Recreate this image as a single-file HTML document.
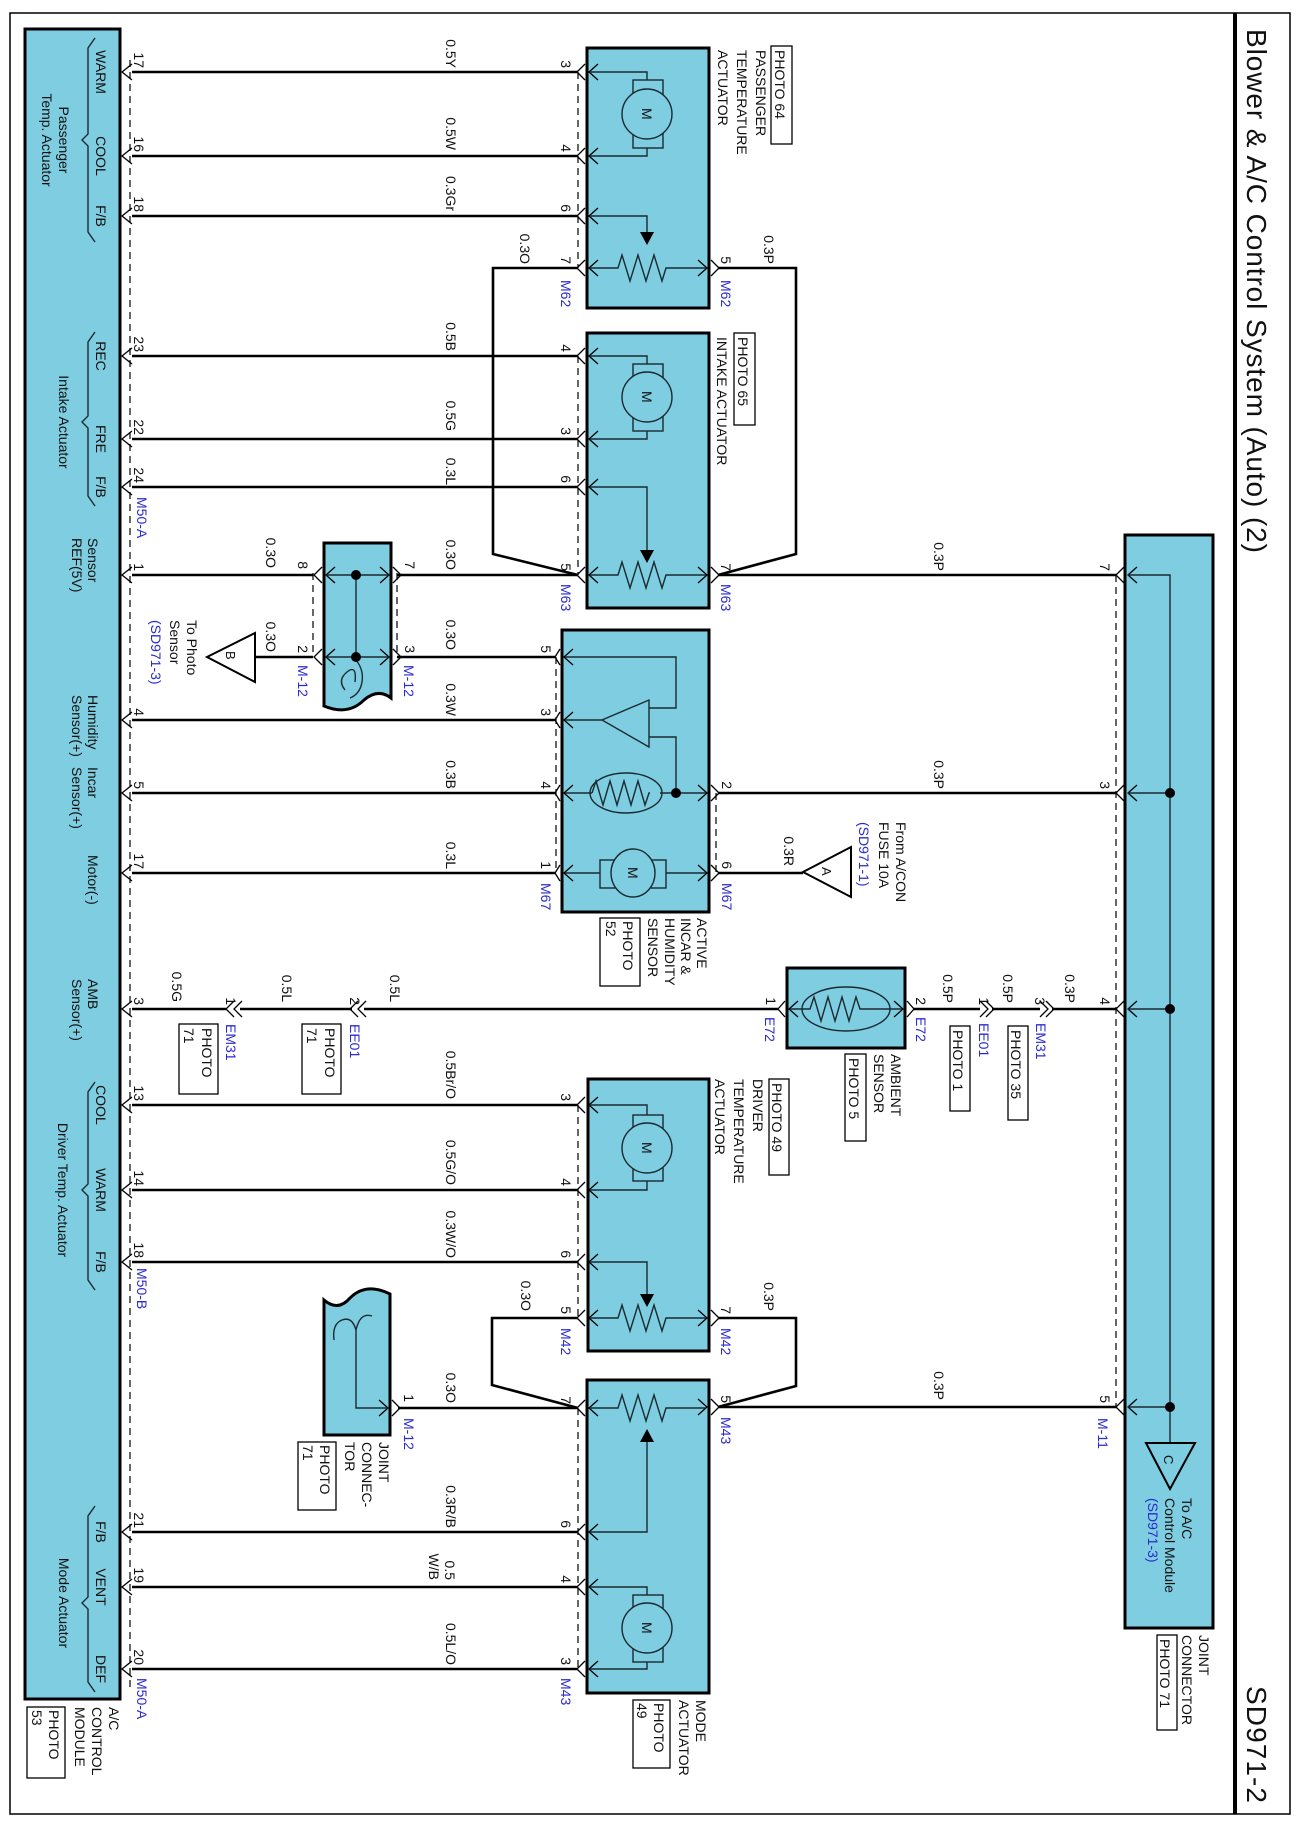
<!DOCTYPE html>
<html><head><meta charset="utf-8"><style>
html,body{margin:0;padding:0;background:#fff;}
svg{display:block;}
text{font-family:"Liberation Sans",Arial,sans-serif;font-size:14px;fill:#111;}
.b{fill:#2a2ad0;}
.w{stroke:#000;stroke-width:2.6;fill:none;}
.t{stroke:#1a2a30;stroke-width:1.4;fill:none;}
.box{fill:#7ecde0;stroke:#000;stroke-width:3;}
.d{stroke:#000;stroke-width:1.2;stroke-dasharray:7,5;fill:none;}
.ch{stroke:#000;stroke-width:1.3;fill:none;}
</style></head><body>
<svg width="1300" height="1828" viewBox="0 0 1300 1828" xmlns="http://www.w3.org/2000/svg">
<!-- frame -->
<rect x="10" y="13" width="1280" height="1801" fill="none" stroke="#000" stroke-width="1.5"/>
<line x1="1235" y1="13" x2="1235" y2="1814" stroke="#000" stroke-width="4"/>
<text transform="translate(1247 29) rotate(90)" style="font-size:28px" textLength="524">Blower &amp; A/C Control System (Auto) (2)</text>
<text transform="translate(1247 1686) rotate(90)" style="font-size:28px" textLength="117">SD971-2</text>

<!-- boxes -->
<rect class="box" x="25" y="29" width="95" height="1670"/>
<rect class="box" x="1125" y="535" width="88" height="1093"/>
<rect class="box" x="587" y="48" width="122" height="260"/>
<rect class="box" x="587" y="333" width="122" height="275"/>
<rect class="box" x="562" y="630" width="147" height="282"/>
<rect class="box" x="787" y="968" width="118" height="80"/>
<rect class="box" x="588" y="1079" width="121" height="272"/>
<rect class="box" x="587" y="1380" width="122" height="313"/>
<path class="box" d="M324 543 L391 543 L391 698 Q378 688 364 700 Q348 716 324 706 Z"/>
<path class="box" d="M324 1300 Q338 1312 350 1298 Q366 1282 390 1294 L390 1435 L324 1435 Z"/>

<!-- dashed lines -->
<line class="d" x1="130" y1="60" x2="130" y2="1690"/>
<line class="d" x1="578" y1="72" x2="578" y2="268"/>
<line class="d" x1="578" y1="356" x2="578" y2="575"/>
<line class="d" x1="556" y1="657" x2="556" y2="873"/>
<line class="d" x1="716" y1="793" x2="716" y2="873"/>
<line class="d" x1="578" y1="1105" x2="578" y2="1318"/>
<line class="d" x1="578" y1="1408" x2="578" y2="1669"/>
<line class="d" x1="1116" y1="575" x2="1116" y2="1407"/>
<line class="d" x1="313" y1="573" x2="313" y2="657"/>
<line class="d" x1="397" y1="573" x2="397" y2="657"/>

<!-- wires -->
<g class="w">
<path d="M132 72H578M132 156H578M132 216H578"/>
<path d="M132 356H578M132 439H578M132 487H578"/>
<path d="M132 575H313M397 575H578"/>
<path d="M255 657H313M397 657H556"/>
<path d="M132 720H556M132 793H556M132 873H556"/>
<path d="M132 1009H226M240 1009H352M364 1009H779"/>
<path d="M913 1009H980M992 1009H1040M1052 1009H1117"/>
<path d="M132 1105H578M132 1190H578M132 1262H578"/>
<path d="M132 1532H578M132 1587H578M132 1669H578"/>
<path d="M398 1408H578"/>
<path d="M578 268H493V554L578 575"/>
<path d="M718 268H796V554L718 575"/>
<path d="M578 1318H492V1385L578 1408"/>
<path d="M718 1318H796V1386L718 1407"/>
<path d="M718 575H1117M718 793H1117M718 1407H1117"/>
<path d="M718 873H803"/>
</g>

<!-- module chevrons -->
<g class="ch">
<path d="M132 64L122 72L132 80M132 148L122 156L132 164M132 208L122 216L132 224M132 348L122 356L132 364M132 431L122 439L132 447M132 479L122 487L132 495M132 567L122 575L132 583M132 712L122 720L132 728M132 785L122 793L132 801M132 865L122 873L132 881M132 1001L122 1009L132 1017M132 1097L122 1105L132 1113M132 1182L122 1190L132 1198M132 1254L122 1262L132 1270M132 1524L122 1532L132 1540M132 1579L122 1587L132 1595M132 1661L122 1669L132 1677"/>
</g>
<!-- component left chevrons (edge 587) -->
<g class="ch">
<path d="M585 64L577 72L585 80M598 64L589 72L598 80"/>
<path d="M585 148L577 156L585 164M598 148L589 156L598 164"/>
<path d="M585 208L577 216L585 224M598 208L589 216L598 224"/>
<path d="M585 260L577 268L585 276M598 260L589 268L598 276"/>
<path d="M585 348L577 356L585 364M598 348L589 356L598 364"/>
<path d="M585 431L577 439L585 447M598 431L589 439L598 447"/>
<path d="M585 479L577 487L585 495M598 479L589 487L598 495"/>
<path d="M585 567L577 575L585 583M598 567L589 575L598 583"/>
<path d="M585 1097L577 1105L585 1113M598 1097L589 1105L598 1113"/>
<path d="M585 1182L577 1190L585 1198M598 1182L589 1190L598 1198"/>
<path d="M585 1254L577 1262L585 1270M598 1254L589 1262L598 1270"/>
<path d="M585 1310L577 1318L585 1326M598 1310L589 1318L598 1326"/>
<path d="M585 1400L577 1408L585 1416M598 1400L589 1408L598 1416"/>
<path d="M585 1524L577 1532L585 1540M598 1524L589 1532L598 1540"/>
<path d="M585 1579L577 1587L585 1595M598 1579L589 1587L598 1595"/>
<path d="M585 1661L577 1669L585 1677M598 1661L589 1669L598 1677"/>
<path d="M560 649L555 657L560 665M573 649L564 657L573 665"/>
<path d="M560 712L555 720L560 728M573 712L564 720L573 728"/>
<path d="M560 785L555 793L560 801M573 785L564 793L573 801"/>
<path d="M560 865L555 873L560 881M573 865L564 873L573 881"/>
<!-- right side -->
<path d="M711 260L719 268L711 276M698 260L707 268L698 276"/>
<path d="M711 567L719 575L711 583M698 567L707 575L698 583"/>
<path d="M711 785L719 793L711 801M698 785L707 793L698 801"/>
<path d="M711 865L719 873L711 881M698 865L707 873L698 881"/>
<path d="M711 1310L719 1318L711 1326M698 1310L707 1318L698 1326"/>
<path d="M711 1399L719 1407L711 1415M698 1399L707 1407L698 1415"/>
<!-- joint -->
<path d="M1124 567L1116 575L1124 583M1137 567L1128 575L1137 583"/>
<path d="M1124 785L1116 793L1124 801M1137 785L1128 793L1137 801"/>
<path d="M1124 1001L1116 1009L1124 1017M1137 1001L1128 1009L1137 1017"/>
<path d="M1124 1399L1116 1407L1124 1415M1137 1399L1128 1407L1137 1415"/>
<!-- M-12 joint upper -->
<path d="M322 567L314 575L322 583M335 567L326 575L335 583M322 649L314 657L322 665M335 649L326 657L335 665"/>
<path d="M393 567L401 575L393 583M380 567L389 575L380 583M393 649L401 657L393 665M380 649L389 657L380 665"/>
<path d="M392 1400L400 1408L392 1416M379 1400L388 1408L379 1416"/>
<!-- ambient -->
<path d="M785 1001L778 1009L785 1017M798 1001L789 1009L798 1017"/>
<path d="M907 1001L914 1009L907 1017M894 1001L903 1009L894 1017"/>
<!-- inline connectors -->
<path d="M234 1001L226 1009L234 1017M242 1001L234 1009L242 1017"/>
<path d="M358 1001L350 1009L358 1017M366 1001L358 1009L366 1017"/>
<path d="M980 1001L988 1009L980 1017M986 1001L994 1009L986 1017"/>
<path d="M1040 1001L1048 1009L1040 1017M1046 1001L1054 1009L1046 1017"/>
</g>

<!-- internals -->
<g class="t">
<!-- pass temp -->
<path d="M590 72H647V80M647 148V156H590"/>
<path d="M590 216H647V232"/>
<path d="M590 268H618l4 -13l8 26l8 -26l8 26l8 -26l8 26l4 -13H706"/>
<!-- intake -->
<path d="M590 356H647V364M647 431V439H590"/>
<path d="M590 487H647V550"/>
<path d="M590 575H618l4 -13l8 26l8 -26l8 26l8 -26l8 26l4 -13H706"/>
<!-- driver -->
<path d="M590 1105H647V1115M647 1181V1190H590"/>
<path d="M590 1262H647V1294"/>
<path d="M590 1318H618l4 -13l8 26l8 -26l8 26l8 -26l8 26l4 -13H706"/>
<!-- mode -->
<path d="M590 1408H618l4 -13l8 26l8 -26l8 26l8 -26l8 26l4 -13H706"/>
<path d="M590 1532H647V1442"/>
<path d="M590 1587H647V1595M647 1662V1669H590"/>
<!-- humidity -->
<path d="M565 657H676V708H649"/>
<path d="M649 737H676V793"/>
<path d="M602 720H565"/>
<path d="M649 700L649 747L602 720Z" fill="#7ecde0"/>
<path d="M565 793H592M660 793H706"/>
<ellipse cx="626" cy="793" rx="36" ry="20"/>
<path d="M592 793l4 -12l7 24l7 -24l7 24l7 -24l7 24l7 -24l7 24l4 -12h1"/>
<path d="M565 873H706"/>
<!-- ambient -->
<path d="M790 1009H810l4 -12l7 24l7 -24l7 24l7 -24l7 24l7 -24l4 12H902"/>
<ellipse cx="846" cy="1009" rx="44" ry="22"/>
<!-- joint M-12 upper -->
<path d="M326 575H389M326 657H389M356 575V657"/>
<path d="M345 690q-8 -10 2 -18q10 -8 8 10M356 660q8 10 6 22q-2 12 -12 16"/>
<!-- joint M-12 lower -->
<path d="M388 1408H356V1330"/>
<path d="M356 1330q-4 -14 -14 -10q-10 4 -8 20M356 1330q4 -18 16 -14"/>
<!-- joint bus -->
<path d="M1128 575H1170V1443M1128 793H1170M1128 1009H1170M1128 1407H1170"/>
</g>
<!-- motors -->
<g stroke="#1a2a30" stroke-width="1.4" fill="#7ecde0">
<rect x="633" y="80" width="30" height="68"/><ellipse cx="647" cy="114" rx="25" ry="25"/>
<rect x="633" y="364" width="30" height="67"/><ellipse cx="647" cy="397" rx="25" ry="25"/>
<rect x="633" y="1115" width="30" height="66"/><ellipse cx="647" cy="1148" rx="25" ry="25"/>
<rect x="633" y="1595" width="30" height="67"/><ellipse cx="647" cy="1628" rx="25" ry="25"/>
<rect x="600" y="860" width="66" height="28"/><ellipse cx="633" cy="873" rx="22" ry="24"/>
</g>
<g style="font-size:13px">
<text transform="translate(642 108) rotate(90)">M</text>
<text transform="translate(642 391) rotate(90)">M</text>
<text transform="translate(642 1142) rotate(90)">M</text>
<text transform="translate(642 1622) rotate(90)">M</text>
<text transform="translate(628 867) rotate(90)">M</text>
</g>
<!-- arrowheads -->
<g fill="#000">
<path d="M640 232L654 232L647 245Z"/>
<path d="M640 550L654 550L647 563Z"/>
<path d="M640 1294L654 1294L647 1307Z"/>
<path d="M640 1442L654 1442L647 1429Z"/>
<circle cx="356" cy="575" r="5"/><circle cx="356" cy="657" r="5"/>
<circle cx="676" cy="793" r="5"/>
<circle cx="1170" cy="793" r="5"/><circle cx="1170" cy="1009" r="5"/><circle cx="1170" cy="1407" r="5"/>
</g>
<!-- triangles -->
<g fill="#fff" stroke="#000" stroke-width="2">
<path d="M207 657L255 633L255 682Z"/>
<path d="M803 872L851 847L851 897Z"/>
<path d="M1146 1443L1195 1443L1170 1489Z" fill="#7ecde0"/>
</g>
<text transform="translate(226 651) rotate(90)" style="font-size:13px">B</text>
<text transform="translate(822 867) rotate(90)" style="font-size:13px">A</text>
<text transform="translate(1164 1455) rotate(90)" style="font-size:13px">C</text>

<!-- module pin names -->
<g text-anchor="middle">
<text transform="translate(96 72) rotate(90)">WARM</text>
<text transform="translate(96 156) rotate(90)">COOL</text>
<text transform="translate(96 216) rotate(90)">F/B</text>
<text transform="translate(96 356) rotate(90)">REC</text>
<text transform="translate(96 439) rotate(90)">FRE</text>
<text transform="translate(96 487) rotate(90)">F/B</text>
<text transform="translate(96 1105) rotate(90)">COOL</text>
<text transform="translate(96 1190) rotate(90)">WARM</text>
<text transform="translate(96 1262) rotate(90)">F/B</text>
<text transform="translate(96 1532) rotate(90)">F/B</text>
<text transform="translate(96 1587) rotate(90)">VENT</text>
<text transform="translate(96 1669) rotate(90)">DEF</text>
<text transform="translate(59 140) rotate(90)">Passenger</text>
<text transform="translate(42 140) rotate(90)">Temp. Actuator</text>
<text transform="translate(59 422) rotate(90)">Intake Actuator</text>
<text transform="translate(58 1190) rotate(90)">Driver Temp. Actuator</text>
<text transform="translate(59 1603) rotate(90)">Mode Actuator</text>
</g>
<text transform="translate(88 538) rotate(90)">Sensor</text>
<text transform="translate(72 538) rotate(90)">REF(5V)</text>
<text transform="translate(88 695) rotate(90)">Humidity</text>
<text transform="translate(72 695) rotate(90)">Sensor(+)</text>
<text transform="translate(88 767) rotate(90)">Incar</text>
<text transform="translate(72 767) rotate(90)">Sensor(+)</text>
<text transform="translate(88 855) rotate(90)">Motor(-)</text>
<text transform="translate(88 979) rotate(90)">AMB</text>
<text transform="translate(72 979) rotate(90)">Sensor(+)</text>
<!-- braces -->
<g class="t">
<path d="M95 38L88 48V134L82 140L88 146V232L95 242"/>
<path d="M95 332L88 342V416L82 422L88 428V496L95 506"/>
<path d="M95 1082L88 1092V1184L82 1190L88 1196V1280L95 1290"/>
<path d="M95 1506L88 1516V1597L82 1603L88 1609V1682L95 1692"/>
</g>

<!-- module pin numbers -->
<g text-anchor="end">
<text transform="translate(134 68) rotate(90)">17</text>
<text transform="translate(134 152) rotate(90)">16</text>
<text transform="translate(134 212) rotate(90)">18</text>
<text transform="translate(134 352) rotate(90)">23</text>
<text transform="translate(134 435) rotate(90)">22</text>
<text transform="translate(134 483) rotate(90)">24</text>
<text transform="translate(134 571) rotate(90)">1</text>
<text transform="translate(134 716) rotate(90)">4</text>
<text transform="translate(134 789) rotate(90)">5</text>
<text transform="translate(134 869) rotate(90)">17</text>
<text transform="translate(134 1005) rotate(90)">3</text>
<text transform="translate(134 1101) rotate(90)">13</text>
<text transform="translate(134 1186) rotate(90)">14</text>
<text transform="translate(134 1258) rotate(90)">18</text>
<text transform="translate(134 1528) rotate(90)">21</text>
<text transform="translate(134 1583) rotate(90)">19</text>
<text transform="translate(134 1665) rotate(90)">20</text>
<!-- wire labels -->
<text transform="translate(446 68) rotate(90)">0.5Y</text>
<text transform="translate(446 150) rotate(90)">0.5W</text>
<text transform="translate(446 211) rotate(90)">0.3Gr</text>
<text transform="translate(446 351) rotate(90)">0.5B</text>
<text transform="translate(446 431) rotate(90)">0.5G</text>
<text transform="translate(446 485) rotate(90)">0.3L</text>
<text transform="translate(446 570) rotate(90)">0.3O</text>
<text transform="translate(266 568) rotate(90)">0.3O</text>
<text transform="translate(266 652) rotate(90)">0.3O</text>
<text transform="translate(446 650) rotate(90)">0.3O</text>
<text transform="translate(446 716) rotate(90)">0.3W</text>
<text transform="translate(446 789) rotate(90)">0.3B</text>
<text transform="translate(446 869) rotate(90)">0.3L</text>
<text transform="translate(520 264) rotate(90)">0.3O</text>
<text transform="translate(764 264) rotate(90)">0.3P</text>
<text transform="translate(934 571) rotate(90)">0.3P</text>
<text transform="translate(934 789) rotate(90)">0.3P</text>
<text transform="translate(784 866) rotate(90)">0.3R</text>
<text transform="translate(172 1002) rotate(90)">0.5G</text>
<text transform="translate(282 1002) rotate(90)">0.5L</text>
<text transform="translate(390 1002) rotate(90)">0.5L</text>
<text transform="translate(943 1003) rotate(90)">0.5P</text>
<text transform="translate(1003 1003) rotate(90)">0.5P</text>
<text transform="translate(1065 1003) rotate(90)">0.3P</text>
<text transform="translate(446 1099) rotate(90)">0.5Br/O</text>
<text transform="translate(446 1185) rotate(90)">0.5G/O</text>
<text transform="translate(446 1258) rotate(90)">0.3W/O</text>
<text transform="translate(521 1311) rotate(90)">0.3O</text>
<text transform="translate(764 1311) rotate(90)">0.3P</text>
<text transform="translate(446 1403) rotate(90)">0.3O</text>
<text transform="translate(934 1400) rotate(90)">0.3P</text>
<text transform="translate(446 1528) rotate(90)">0.3R/B</text>
<text transform="translate(445 1580) rotate(90)">0.5</text>
<text transform="translate(429 1580) rotate(90)">W/B</text>
<text transform="translate(446 1665) rotate(90)">0.5L/O</text>
<!-- component pin numbers -->
<text transform="translate(561 68) rotate(90)">3</text>
<text transform="translate(561 152) rotate(90)">4</text>
<text transform="translate(561 212) rotate(90)">6</text>
<text transform="translate(561 264) rotate(90)">7</text>
<text transform="translate(721 264) rotate(90)">5</text>
<text transform="translate(561 352) rotate(90)">4</text>
<text transform="translate(561 435) rotate(90)">3</text>
<text transform="translate(561 483) rotate(90)">6</text>
<text transform="translate(561 571) rotate(90)">5</text>
<text transform="translate(721 571) rotate(90)">7</text>
<text transform="translate(541 653) rotate(90)">5</text>
<text transform="translate(541 716) rotate(90)">3</text>
<text transform="translate(541 789) rotate(90)">4</text>
<text transform="translate(541 869) rotate(90)">1</text>
<text transform="translate(722 789) rotate(90)">2</text>
<text transform="translate(722 869) rotate(90)">6</text>
<text transform="translate(298 569) rotate(90)">8</text>
<text transform="translate(405 569) rotate(90)">7</text>
<text transform="translate(298 653) rotate(90)">2</text>
<text transform="translate(405 653) rotate(90)">3</text>
<text transform="translate(226 1005) rotate(90)">1</text>
<text transform="translate(350 1005) rotate(90)">2</text>
<text transform="translate(766 1005) rotate(90)">1</text>
<text transform="translate(916 1005) rotate(90)">2</text>
<text transform="translate(979 1005) rotate(90)">1</text>
<text transform="translate(1035 1005) rotate(90)">3</text>
<text transform="translate(1100 1005) rotate(90)">4</text>
<text transform="translate(1100 571) rotate(90)">7</text>
<text transform="translate(1100 789) rotate(90)">3</text>
<text transform="translate(1100 1403) rotate(90)">5</text>
<text transform="translate(561 1101) rotate(90)">3</text>
<text transform="translate(561 1186) rotate(90)">4</text>
<text transform="translate(561 1258) rotate(90)">6</text>
<text transform="translate(561 1314) rotate(90)">5</text>
<text transform="translate(721 1314) rotate(90)">7</text>
<text transform="translate(561 1404) rotate(90)">7</text>
<text transform="translate(721 1403) rotate(90)">5</text>
<text transform="translate(404 1402) rotate(90)">1</text>
<text transform="translate(561 1528) rotate(90)">6</text>
<text transform="translate(561 1583) rotate(90)">4</text>
<text transform="translate(561 1665) rotate(90)">3</text>
</g>
<!-- blue connector labels -->
<g class="b">
<text class="b" transform="translate(137 497) rotate(90)">M50-A</text>
<text class="b" transform="translate(137 1268) rotate(90)">M50-B</text>
<text class="b" transform="translate(137 1678) rotate(90)">M50-A</text>
<text class="b" transform="translate(561 280) rotate(90)">M62</text>
<text class="b" transform="translate(721 280) rotate(90)">M62</text>
<text class="b" transform="translate(561 584) rotate(90)">M63</text>
<text class="b" transform="translate(721 584) rotate(90)">M63</text>
<text class="b" transform="translate(541 883) rotate(90)">M67</text>
<text class="b" transform="translate(722 883) rotate(90)">M67</text>
<text class="b" transform="translate(298 665) rotate(90)">M-12</text>
<text class="b" transform="translate(404 665) rotate(90)">M-12</text>
<text class="b" transform="translate(226 1024) rotate(90)">EM31</text>
<text class="b" transform="translate(350 1024) rotate(90)">EE01</text>
<text class="b" transform="translate(765 1017) rotate(90)">E72</text>
<text class="b" transform="translate(916 1017) rotate(90)">E72</text>
<text class="b" transform="translate(979 1023) rotate(90)">EE01</text>
<text class="b" transform="translate(1036 1023) rotate(90)">EM31</text>
<text class="b" transform="translate(561 1328) rotate(90)">M42</text>
<text class="b" transform="translate(721 1328) rotate(90)">M42</text>
<text class="b" transform="translate(404 1418) rotate(90)">M-12</text>
<text class="b" transform="translate(721 1417) rotate(90)">M43</text>
<text class="b" transform="translate(561 1678) rotate(90)">M43</text>
<text class="b" transform="translate(1098 1418) rotate(90)">M-11</text>
</g>

<!-- component labels -->
<g style="font-size:15px">
<rect x="771" y="46" width="21" height="98" fill="none" stroke="#000" stroke-width="1.3"/>
<text transform="translate(775 50) rotate(90)">PHOTO 64</text>
<text transform="translate(756 50) rotate(90)">PASSENGER</text>
<text transform="translate(737 50) rotate(90)">TEMPERATURE</text>
<text transform="translate(718 50) rotate(90)">ACTUATOR</text>
<rect x="734" y="333" width="21" height="92" fill="none" stroke="#000" stroke-width="1.3"/>
<text transform="translate(738 337) rotate(90)">PHOTO 65</text>
<text transform="translate(717 337) rotate(90)">INTAKE ACTUATOR</text>

<text transform="translate(697 918) rotate(90)">ACTIVE</text>
<text transform="translate(681 918) rotate(90)">INCAR &amp;</text>
<text transform="translate(665 918) rotate(90)">HUMIDITY</text>
<text transform="translate(648 918) rotate(90)">SENSOR</text>
<rect x="600" y="918" width="40" height="68" fill="none" stroke="#000" stroke-width="1.3"/>
<text transform="translate(623 921) rotate(90)">PHOTO</text>
<text transform="translate(606 921) rotate(90)">52</text>

<text transform="translate(891 1054) rotate(90)">AMBIENT</text>
<text transform="translate(874 1054) rotate(90)">SENSOR</text>
<rect x="845" y="1054" width="21" height="87" fill="none" stroke="#000" stroke-width="1.3"/>
<text transform="translate(849 1058) rotate(90)">PHOTO 5</text>
<rect x="950" y="1026" width="20" height="85" fill="none" stroke="#000" stroke-width="1.3"/>
<text transform="translate(953 1030) rotate(90)">PHOTO 1</text>
<rect x="1008" y="1026" width="20" height="94" fill="none" stroke="#000" stroke-width="1.3"/>
<text transform="translate(1011 1030) rotate(90)">PHOTO 35</text>

<rect x="179" y="1024" width="39" height="70" fill="none" stroke="#000" stroke-width="1.3"/>
<text transform="translate(202 1028) rotate(90)">PHOTO</text>
<text transform="translate(184 1028) rotate(90)">71</text>
<rect x="302" y="1024" width="39" height="70" fill="none" stroke="#000" stroke-width="1.3"/>
<text transform="translate(325 1028) rotate(90)">PHOTO</text>
<text transform="translate(307 1028) rotate(90)">71</text>

<rect x="769" y="1079" width="20" height="96" fill="none" stroke="#000" stroke-width="1.3"/>
<text transform="translate(772 1083) rotate(90)">PHOTO 49</text>
<text transform="translate(753 1079) rotate(90)">DRIVER</text>
<text transform="translate(734 1079) rotate(90)">TEMPERATURE</text>
<text transform="translate(715 1079) rotate(90)">ACTUATOR</text>

<text transform="translate(379 1442) rotate(90)">JOINT</text>
<text transform="translate(362 1442) rotate(90)">CONNEC-</text>
<text transform="translate(345 1442) rotate(90)">TOR</text>
<rect x="298" y="1442" width="38" height="68" fill="none" stroke="#000" stroke-width="1.3"/>
<text transform="translate(320 1445) rotate(90)">PHOTO</text>
<text transform="translate(303 1445) rotate(90)">71</text>

<text transform="translate(696 1700) rotate(90)">MODE</text>
<text transform="translate(679 1700) rotate(90)">ACTUATOR</text>
<rect x="633" y="1700" width="37" height="68" fill="none" stroke="#000" stroke-width="1.3"/>
<text transform="translate(654 1703) rotate(90)">PHOTO</text>
<text transform="translate(637 1703) rotate(90)">49</text>

<text transform="translate(109 1707) rotate(90)">A/C</text>
<text transform="translate(92 1707) rotate(90)">CONTROL</text>
<text transform="translate(75 1707) rotate(90)">MODULE</text>
<rect x="27" y="1707" width="38" height="71" fill="none" stroke="#000" stroke-width="1.3"/>
<text transform="translate(49 1710) rotate(90)">PHOTO</text>
<text transform="translate(32 1710) rotate(90)">53</text>

<text transform="translate(1199 1635) rotate(90)">JOINT</text>
<text transform="translate(1182 1635) rotate(90)">CONNECTOR</text>
<rect x="1157" y="1635" width="20" height="95" fill="none" stroke="#000" stroke-width="1.3"/>
<text transform="translate(1160 1639) rotate(90)">PHOTO 71</text>

<text transform="translate(1182 1498) rotate(90)">To A/C</text>
<text transform="translate(1165 1498) rotate(90)">Control Module</text>
<text class="b" transform="translate(1148 1498) rotate(90)">(SD971-3)</text>

<text transform="translate(896 822) rotate(90)">From A/CON</text>
<text transform="translate(879 822) rotate(90)">FUSE 10A</text>
<text class="b" transform="translate(859 822) rotate(90)">(SD971-1)</text>

<text transform="translate(187 620) rotate(90)">To Photo</text>
<text transform="translate(170 620) rotate(90)">Sensor</text>
<text class="b" transform="translate(151 620) rotate(90)">(SD971-3)</text>
</g>
</svg>
</body></html>
